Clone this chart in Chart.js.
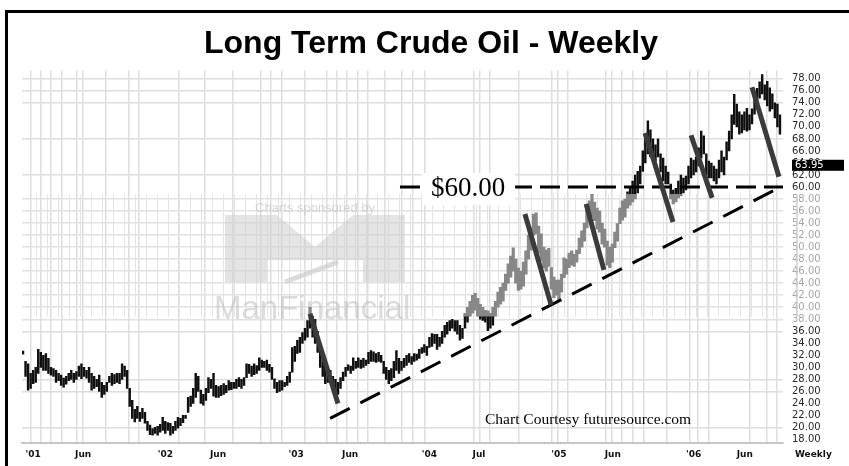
<!DOCTYPE html>
<html>
<head>
<meta charset="utf-8">
<script src="https://cdn.jsdelivr.net/npm/chart.js@4.4.1/dist/chart.umd.min.js"></script>
<style>
  html, body { margin: 0; padding: 0; background: #fff; }
  #wrap { position: relative; width: 849px; height: 466px; overflow: hidden; }
  #frame { position: absolute; left: 5px; top: 10px; width: 900px; height: 500px;
           border-top: 3px solid #000; border-left: 3px solid #000; pointer-events: none; }
</style>
</head>
<body>
<div id="wrap">
  <canvas id="oilChart" width="849" height="466"></canvas>
  <div id="frame"></div>
</div>
<script>
// weekly ranges, week 0 = first week of 2001
const weekLows = [
  32.2, 28.5, 26.2, 26.5, 27.3, 27.5, 29.0, 30.0, 29.5, 29.5,
  29.0, 28.7, 28.5, 27.5, 27.8, 27.0, 26.7, 27.2, 27.8, 28.0,
  27.5, 28.0, 28.5, 28.1, 28.5, 28.2, 27.5, 26.2, 26.5, 26.8,
  26.0, 25.0, 25.5, 26.0, 27.5, 27.0, 27.3, 27.5, 27.3, 28.0,
  28.5, 26.5, 23.5, 21.5, 20.9, 21.5, 21.0, 21.5, 20.7, 19.5,
  18.8, 18.7, 19.0, 18.7, 19.2, 19.5, 19.0, 19.5, 18.7, 19.0,
  19.5, 19.9, 20.3, 20.8, 21.5, 22.5, 23.5, 24.0, 25.0, 26.0,
  24.0, 23.7, 24.5, 25.8, 26.5, 25.2, 25.0, 25.0, 25.3, 25.5,
  25.8, 26.2, 26.3, 26.5, 26.5, 26.8, 26.5, 27.0, 28.3, 29.0,
  28.5, 28.8, 29.0, 29.5, 30.0, 30.0, 29.5, 29.2, 28.0, 26.5,
  25.8, 26.0, 26.2, 26.8, 27.0, 27.5, 29.2, 31.0, 32.3, 32.5,
  34.0, 34.5, 35.0, 36.5, 35.0, 34.0, 32.5, 30.0, 28.5, 27.3,
  27.5, 27.5, 26.5, 25.7, 25.5, 26.5, 27.8, 28.5, 29.5, 29.0,
  29.5, 29.8, 30.0, 29.8, 30.0, 30.3, 30.6, 31.0, 31.0, 30.8,
  31.0, 30.8, 29.0, 28.0, 27.3, 27.8, 28.3, 29.5, 29.0, 29.5,
  30.0, 30.3, 30.8, 30.5, 31.0, 31.2, 31.5, 32.3, 32.5, 32.0,
  33.3, 33.5, 34.0, 33.0, 33.5, 34.0, 35.0, 35.5, 36.1, 36.5,
  36.0, 35.5, 34.5, 34.8, 36.5, 37.5, 38.5, 39.0, 39.5, 38.5,
  38.0, 37.8, 37.5, 36.1, 36.5, 37.0, 38.5, 40.0, 40.5, 41.0,
  42.8, 44.0, 45.0, 46.0, 44.0, 42.8, 43.0, 43.5, 45.5, 48.0,
  49.5, 52.0, 52.2, 49.0, 47.7, 46.5, 46.0, 46.8, 43.0, 41.6,
  42.0, 41.2, 42.5, 44.9, 45.5, 46.6, 47.0, 46.8, 47.5, 48.9,
  50.0, 51.0, 53.2, 54.5, 55.0, 54.4, 53.0, 52.5, 50.5, 50.0,
  47.0, 46.6, 47.5, 49.9, 51.0, 53.9, 54.5, 55.0, 56.5, 57.0,
  57.5, 58.0, 59.0, 60.5, 62.6, 64.0, 65.5, 65.0, 64.5, 64.3,
  65.0, 62.5, 61.0, 60.5, 60.5, 58.0, 57.2, 57.5, 58.2, 58.5,
  59.0, 59.5, 60.5, 61.5, 62.0, 62.5, 63.5, 64.8, 65.5, 62.0,
  61.5, 61.5, 61.0, 60.5, 61.5, 62.5, 62.0, 64.5, 66.0, 68.0,
  70.4, 70.0, 68.8, 69.0, 69.5, 69.3, 69.5, 70.5, 72.1, 73.0,
  74.8, 75.5, 74.5, 73.5, 72.6, 73.0, 71.5, 70.0, 68.8
];
const weekHighs = [
  32.7, 31.0, 30.6, 29.0, 29.5, 30.0, 33.0, 32.5, 32.0, 32.3,
  31.5, 30.0, 29.8, 29.5, 29.0, 28.7, 28.2, 28.5, 29.0, 29.5,
  29.0, 29.3, 30.2, 30.6, 30.0, 29.5, 30.0, 29.0, 28.5, 28.0,
  28.7, 27.5, 27.0, 27.5, 28.5, 29.0, 28.8, 29.0, 29.0, 30.6,
  30.2, 29.5, 26.5, 24.5, 23.0, 23.5, 22.5, 23.2, 22.5, 21.0,
  20.4, 19.8, 20.0, 20.2, 20.5, 21.7, 21.0, 20.8, 20.7, 20.2,
  21.0, 21.7, 21.5, 22.0, 22.0, 25.0, 25.2, 26.5, 29.0, 28.5,
  26.2, 25.5, 26.5, 28.3, 28.0, 29.0, 27.0, 26.8, 27.0, 27.3,
  27.0, 27.8, 27.5, 27.5, 28.0, 28.3, 28.0, 28.3, 30.6, 30.5,
  30.2, 30.6, 30.3, 31.6, 31.2, 31.0, 31.2, 30.5, 30.0, 28.1,
  27.5, 27.8, 27.8, 27.5, 28.5, 29.2, 33.3, 33.5, 34.5, 35.0,
  35.8, 36.5, 37.8, 40.0, 38.5, 38.0, 36.0, 33.5, 31.6, 30.5,
  29.5, 29.5, 28.5, 28.0, 27.5, 28.3, 29.2, 30.0, 30.4, 30.2,
  31.6, 31.0, 31.6, 31.2, 31.5, 31.2, 32.5, 32.8, 32.6, 32.3,
  32.5, 32.0, 31.0, 30.0, 29.5, 29.8, 31.0, 32.8, 31.5, 31.0,
  31.5, 32.0, 32.3, 31.8, 32.3, 32.2, 33.0, 33.3, 33.8, 33.5,
  35.0, 35.6, 35.5, 35.5, 35.0, 36.0, 37.0, 37.5, 37.8, 38.0,
  37.8, 37.8, 37.0, 36.5, 39.0, 40.0, 41.0, 42.0, 42.3, 41.5,
  40.5, 40.0, 39.5, 39.4, 39.0, 40.0, 41.0, 42.5, 43.3, 44.0,
  45.5, 47.2, 48.5, 49.9, 48.0, 46.5, 46.0, 47.5, 49.4, 52.0,
  53.2, 55.5, 55.7, 53.5, 52.2, 50.0, 49.5, 49.8, 46.6, 45.0,
  44.5, 44.5, 45.5, 48.2, 48.0, 49.0, 49.4, 48.8, 49.5, 51.5,
  52.7, 54.0, 56.5, 57.7, 58.8, 57.5, 56.5, 56.0, 54.0, 53.0,
  51.0, 50.0, 50.5, 52.5, 53.9, 56.5, 57.7, 58.0, 59.2, 60.0,
  61.0, 62.0, 62.6, 63.5, 66.0, 68.5, 71.0, 69.5, 68.0, 67.0,
  68.0, 65.5, 64.8, 63.5, 62.5, 60.5, 59.5, 59.8, 61.0, 62.0,
  61.5, 61.8, 63.5, 64.8, 64.5, 65.0, 66.5, 69.3, 68.5, 65.5,
  64.3, 64.0, 63.5, 63.0, 64.5, 66.0, 65.0, 67.5, 69.3, 72.0,
  75.4, 73.8, 72.5, 72.0, 72.5, 73.1, 72.0, 73.0, 75.0, 76.4,
  77.5, 78.7, 77.0, 77.6, 76.5, 75.5, 74.0, 73.8, 72.0
];

const xTickWeeks  = [1, 20.5, 53, 73.6, 104.5, 125.6, 157, 177, 208, 229, 261, 281];
const xTickLabels = ["'01", 'Jun', "'02", 'Jun', "'03", 'Jun', "'04", 'Jul', "'05", 'Jun', "'06", 'Jun'];
const gridWeeks = [5.1, 9.1, 13, 17.7, 21.7, 25.6, 39.8, 43.3, 47.6, 69.7, 73.6, 91.7, 95.7, 99.6,
  103.9, 117.7, 121.7, 125.6, 129.5, 133.9, 137.8, 147.2, 151.2, 155.5, 159.4, 178, 181.9, 185.8,
  204.3, 208.3, 212.6, 216.5, 229.9, 233.9, 237.8, 242.1, 246.9, 259.8, 263.8, 267.7, 272.4,
  290.9, 294.9, 298.8];
const priceTicks = [18, 20, 22, 24, 26, 28, 30, 32, 34, 36, 38, 40, 42, 44, 46, 48, 50, 52, 54,
  56, 58, 60, 62, 64, 66, 68, 70, 72, 74, 76, 78];
const priceGridLines = [20, 26, 28, 36, 62, 68, 74, 76, 78];

// the pasted middle section of the chart (grey bars, dense grid)
const bandLow = 38.4;
const bandHigh = 58.8;

const sixtyLine = [{ x: 148.4, y: 60 }, { x: 299.2, y: 60 }];
const supportLine = [{ x: 120.9, y: 21.5 }, { x: 299.2, y: 60.2 }];
const pullbacks = [
  [{ x: 113.0, y: 38.9 }, { x: 124.0, y: 24.0 }],
  [{ x: 197.6, y: 55.5 }, { x: 207.9, y: 40.4 }],
  [{ x: 221.7, y: 57.2 }, { x: 228.7, y: 46.2 }],
  [{ x: 244.9, y: 69.0 }, { x: 255.9, y: 54.2 }],
  [{ x: 263.0, y: 68.6 }, { x: 271.3, y: 58.2 }],
  [{ x: 287.0, y: 76.6 }, { x: 297.6, y: 61.7 }]
];
const lastQuote = 63.95;

// split each weekly bar into the parts outside / inside the grey band
const blackLow = [], greyMid = [], blackHigh = [];
weekLows.forEach(function(lo, i) {
  const hi = weekHighs[i];
  if (lo < bandLow) blackLow.push({ x: i, y: [lo, Math.min(hi, bandLow)] });
  if (hi > bandLow && lo < bandHigh) greyMid.push({ x: i, y: [Math.max(lo, bandLow), Math.min(hi, bandHigh)] });
  if (hi > bandHigh) blackHigh.push({ x: i, y: [Math.max(lo, bandHigh), hi] });
});

const allXTicks = Array.from(new Set(gridWeeks.concat(xTickWeeks))).sort((a, b) => a - b);
const inBand = v => v >= 38 && v <= 58;

const extras = {
  id: 'extras',
  beforeDatasetsDraw(chart) {
    const { ctx, chartArea, scales: { x, y } } = chart;
    const yTop = y.getPixelForValue(bandHigh), yBot = y.getPixelForValue(bandLow);
    ctx.save();
    // dense monthly grid in the pasted section
    ctx.strokeStyle = '#e4e4e4';
    ctx.lineWidth = 1;
    for (let w = 5.1; w < x.max; w += 4.33) {
      const px = Math.round(x.getPixelForValue(w)) + 0.5;
      ctx.beginPath(); ctx.moveTo(px, yTop); ctx.lineTo(px, yBot); ctx.stroke();
    }
    // vertical rule beside grey price labels
    ctx.strokeStyle = '#cfcfcf';
    ctx.lineWidth = 1.5;
    ctx.beginPath(); ctx.moveTo(chartArea.right + 14, yTop); ctx.lineTo(chartArea.right + 14, yBot); ctx.stroke();

    // sponsor watermark
    ctx.fillStyle = 'rgba(205,205,205,0.55)';
    ctx.beginPath();
    ctx.moveTo(225, 282); ctx.lineTo(225, 215); ctx.lineTo(277, 215); ctx.lineTo(315, 247);
    ctx.lineTo(353, 215); ctx.lineTo(405, 215); ctx.lineTo(405, 282); ctx.lineTo(363, 282);
    ctx.lineTo(363, 260); ctx.lineTo(267, 260); ctx.lineTo(267, 282); ctx.closePath();
    ctx.fill();
    ctx.strokeStyle = 'rgba(205,205,205,0.7)';
    ctx.lineWidth = 5;
    ctx.beginPath(); ctx.moveTo(285, 282); ctx.lineTo(338, 262); ctx.stroke();
    ctx.fillStyle = 'rgba(190,190,190,0.6)';
    ctx.font = '13px "Liberation Sans"';
    ctx.textAlign = 'center';
    ctx.textBaseline = 'alphabetic';
    ctx.fillText('Charts sponsored by', 315, 212);
    ctx.font = '33px "Liberation Sans"';
    ctx.textAlign = 'left';
    ctx.fillStyle = 'rgba(185,185,185,0.5)';
    ctx.fillText('ManFinancial', 214, 319);
    ctx.restore();
  },
  afterDatasetsDraw(chart) {
    const { ctx, chartArea, scales: { x, y } } = chart;
    ctx.save();
    // $60.00 label on the dashed line
    const ly = y.getPixelForValue(60);
    const lx = x.getPixelForValue(175.2);
    ctx.fillStyle = '#fff';
    ctx.fillRect(lx - 46, ly - 14, 93, 32);
    ctx.fillStyle = '#000';
    ctx.font = '27px "Liberation Serif"';
    ctx.textAlign = 'center';
    ctx.textBaseline = 'middle';
    ctx.fillText('$60.00', lx, ly + 2);
    // source credit
    ctx.font = '15.5px "Liberation Serif"';
    ctx.textAlign = 'left';
    ctx.textBaseline = 'alphabetic';
    ctx.fillText('Chart Courtesy futuresource.com', 485, 424);
    // last quote box on the price axis
    const qy = y.getPixelForValue(lastQuote) + 2;
    ctx.fillStyle = '#000';
    ctx.fillRect(chartArea.right + 9, qy - 5.5, 52, 11);
    ctx.fillStyle = '#fff';
    ctx.font = '10px "DejaVu Sans"';
    ctx.textBaseline = 'middle';
    ctx.fillText(lastQuote.toFixed(2), chartArea.right + 12, qy + 0.5);
    // period caption under the price axis
    ctx.fillStyle = '#111';
    ctx.font = 'bold 9px "DejaVu Sans"';
    ctx.fillText('Weekly', chartArea.right + 12, chartArea.bottom + 11);
    ctx.restore();
  }
};

const barStyle = { type: 'bar', grouped: false, order: 5 };
const datasets = [
  Object.assign({ data: blackLow, backgroundColor: '#101010', barThickness: 1.8 }, barStyle),
  Object.assign({ data: greyMid, backgroundColor: '#878787', barThickness: 2.6 }, barStyle),
  Object.assign({ data: blackHigh, backgroundColor: '#101010', barThickness: 1.8 }, barStyle),
  { type: 'line', data: sixtyLine, borderColor: '#000', borderWidth: 3, borderDash: [20, 8],
    pointRadius: 0, order: 2 },
  { type: 'line', data: supportLine, borderColor: '#000', borderWidth: 3, borderDash: [22, 12],
    pointRadius: 0, order: 2 }
];
pullbacks.forEach(function(seg) {
  datasets.push({ type: 'line', data: seg, borderColor: '#3b3b3b', borderWidth: 5,
    borderCapStyle: 'butt', pointRadius: 0, order: 1 });
});

new Chart(document.getElementById('oilChart'), {
  type: 'bar',
  data: { datasets: datasets },
  plugins: [extras],
  options: {
    responsive: false,
    animation: false,
    devicePixelRatio: 1,
    layout: { padding: { left: 22, right: 9, top: 0, bottom: 0 } },
    plugins: {
      legend: { display: false },
      tooltip: { enabled: false },
      title: {
        display: true,
        text: 'Long Term Crude Oil - Weekly',
        color: '#000',
        font: { family: 'Liberation Sans', size: 32, weight: 'bold' },
        padding: { top: 25, bottom: 7 }
      }
    },
    scales: {
      x: {
        type: 'linear',
        min: -0.4,
        max: 299.2,
        offset: false,
        afterBuildTicks: axis => { axis.ticks = allXTicks.map(v => ({ value: v })); },
        ticks: {
          autoSkip: false,
          maxRotation: 0,
          align: 'start',
          padding: 6,
          color: '#111',
          font: { family: 'DejaVu Sans', size: 9, weight: 'bold' },
          callback: v => {
            const k = xTickWeeks.indexOf(v);
            return k >= 0 ? xTickLabels[k] : '';
          }
        },
        grid: {
          drawTicks: false,
          lineWidth: 1.5,
          color: c => (c.tick && gridWeeks.indexOf(c.tick.value) >= 0) ? '#dedede' : 'rgba(0,0,0,0)'
        },
        border: { display: true, color: '#c6c6c6', width: 2 }
      },
      y: {
        type: 'linear',
        position: 'right',
        min: 17.38,
        max: 79.4,
        afterBuildTicks: axis => { axis.ticks = priceTicks.map(v => ({ value: v })); },
        afterFit: axis => { axis.width = 57; },
        ticks: {
          autoSkip: false,
          padding: 9,
          color: c => inBand(c.tick.value) ? '#a6a6a6' : '#2a2a2a',
          font: { family: 'DejaVu Sans', size: 10 },
          callback: v => v.toFixed(2)
        },
        grid: {
          drawTicks: false,
          lineWidth: 1.5,
          color: c => {
            const v = c.tick && c.tick.value;
            if (inBand(v)) return '#e2e2e2';
            return priceGridLines.indexOf(v) >= 0 ? '#dedede' : 'rgba(0,0,0,0)';
          }
        },
        border: { display: false }
      }
    }
  }
});
</script>
</body>
</html>
